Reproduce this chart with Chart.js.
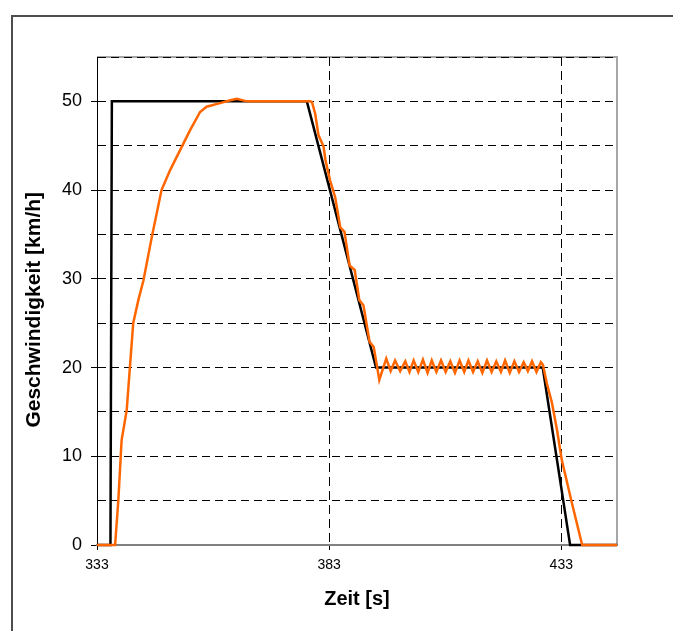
<!DOCTYPE html>
<html>
<head>
<meta charset="utf-8">
<script src="https://cdn.jsdelivr.net/npm/chart.js@4/dist/chart.umd.min.js"></script>
<style>
  html, body { margin: 0; padding: 0; background: #fff; }
  #chart { display: block; }
</style>
</head>
<body>
<canvas id="chart" width="673" height="631"></canvas>
<script>
// Sollgeschwindigkeit (schwarz)
const targetTime = [333, 335.9, 336.2, 378.2, 393.1, 429.0, 434.9, 445];
const targetSpeed = [0, 0, 50, 50, 20, 20, 0, 0];

// Istgeschwindigkeit (orange)
const actualTime = [
  333, 336.9, 337.6, 338.1, 338.3, 339.4, 340.1, 340.8, 341.9, 343.0,
  344.8, 346.9, 348.7, 350.9, 353.0, 355.2, 356.6, 359.5, 361.5, 363.1,
  365.3, 378.9, 379.3, 380.0, 380.7, 381.8, 382.2, 383.2, 384.3, 385.4,
  386.3, 387.4, 388.5, 389.5, 390.4, 391.7, 392.6, 393.2, 393.8,
  395.3, 396.25, 397.2, 398.3, 399.4, 400.3, 401.2, 402.2, 403.2, 404.2,
  405.1, 406.1, 407.1, 408.1, 409.1, 410.1, 411.1, 412.1, 413.0, 414.0,
  415.0, 416.0, 417.0, 418.0, 419.0, 420.0, 420.9, 421.9, 422.9, 423.9,
  424.9, 425.8, 426.7, 427.65, 428.6, 429.05, 429.9, 431.0, 432.1, 433.1,
  435.3, 437.5, 445
];
const actualSpeed = [
  0, 0, 5.1, 9.9, 11.8, 15.2, 20.1, 25.0, 27.6, 29.8,
  34.7, 40.0, 42.2, 44.5, 46.7, 48.8, 49.4, 49.8, 50.1, 50.3,
  50.0, 50.0, 49.9, 48.6, 46.2, 44.9, 43.4, 41.1, 39.2, 35.8,
  35.3, 31.5, 31.0, 27.6, 27.0, 22.9, 22.3, 20.5, 18.6,
  21.0, 19.6, 20.8, 19.6, 20.7, 19.5, 20.8, 19.5, 20.9, 19.4,
  20.8, 19.5, 20.8, 19.5, 20.7, 19.4, 20.8, 19.5, 20.8, 19.5,
  20.7, 19.4, 20.8, 19.5, 20.7, 19.5, 20.8, 19.4, 20.7, 19.5,
  20.6, 19.6, 20.7, 19.5, 20.6, 20.3, 18.2, 16.0, 12.9, 9.6,
  4.7, 0.0, 0.0
];

const xTicks = [333, 383, 433];
const xMin = 333;
const xMax = 445;
const yMin = 0;
const yMax = 55;

const font = 'Liberation Sans, Arial, sans-serif';

function toPoints(xs, ys) {
  return xs.map((x, i) => ({ x, y: ys[i] }));
}

const framePlugin = {
  id: 'frame',
  beforeDraw(chart) {
    const { ctx, chartArea: a } = chart;
    ctx.save();
    // Rahmen um das ganze Diagramm
    ctx.strokeStyle = '#4d4d4d';
    ctx.lineWidth = 2;
    ctx.strokeRect(12, 16, 700, 700);
    // Rand der Zeichenfläche oben und rechts
    ctx.strokeStyle = '#a6a6a6';
    ctx.lineWidth = 2;
    ctx.beginPath();
    ctx.moveTo(a.left, a.top);
    ctx.lineTo(a.right, a.top);
    ctx.lineTo(a.right, a.bottom);
    ctx.stroke();
    ctx.restore();
  },
};

new Chart(document.getElementById('chart'), {
  type: 'scatter',
  data: {
    datasets: [
      {
        label: 'Ist',
        data: toPoints(actualTime, actualSpeed),
        showLine: true,
        borderColor: '#ff6600',
        borderWidth: 2.5,
        pointRadius: 0,
        tension: 0,
        order: 0,
        clip: 4,
      },
      {
        label: 'Soll',
        data: toPoints(targetTime, targetSpeed),
        showLine: true,
        borderColor: '#000000',
        borderWidth: 2.5,
        pointRadius: 0,
        tension: 0,
        order: 1,
        clip: 4,
      },
    ],
  },
  options: {
    responsive: false,
    animation: false,
    devicePixelRatio: 1,
    layout: { padding: { top: 57, right: 56, left: 0, bottom: 0 } },
    plugins: {
      legend: { display: false },
      tooltip: { enabled: false },
    },
    scales: {
      x: {
        type: 'linear',
        min: xMin,
        max: xMax,
        afterBuildTicks: (scale) => {
          scale.ticks = xTicks.map((v) => ({ value: v }));
        },
        afterFit: (scale) => {
          scale.height = 86;
        },
        ticks: {
          color: '#000',
          padding: 7,
          maxRotation: 0,
          font: { family: font, size: 14 },
          callback: (v) => String(v),
        },
        grid: {
          color: (c) => (c.tick && c.tick.value === xMin ? 'rgba(0,0,0,0)' : '#000'),
          lineWidth: 1,
          tickLength: 5,
          tickColor: '#000',
        },
        border: { display: true, color: '#808080', width: 2, dash: [9, 5] },
        title: {
          display: true,
          text: 'Zeit [s]',
          color: '#000',
          font: { family: font, size: 20, weight: 'bold' },
          padding: { top: 0, bottom: 20 },
        },
      },
      y: {
        type: 'linear',
        min: yMin,
        max: yMax,
        afterFit: (scale) => {
          scale.width = 97;
        },
        ticks: {
          stepSize: 5,
          color: '#000',
          padding: 9,
          font: { family: font, size: 18 },
          callback: (v) => (v % 10 === 0 ? String(v) : ''),
        },
        grid: {
          color: (c) => (c.tick && c.tick.value === yMin ? 'rgba(0,0,0,0)' : '#000'),
          lineWidth: 1,
          tickLength: 6,
          tickColor: (c) => (c.tick && c.tick.value % 10 === 0 ? '#000' : 'rgba(0,0,0,0)'),
        },
        border: { display: true, color: '#000', width: 1, dash: [8, 5] },
        title: {
          display: true,
          text: 'Geschwindigkeit [km/h]   ',
          color: '#000',
          font: { family: font, size: 21, weight: 'bold' },
          padding: { top: 22, bottom: 0 },
        },
      },
    },
  },
  plugins: [framePlugin],
});
</script>
</body>
</html>
